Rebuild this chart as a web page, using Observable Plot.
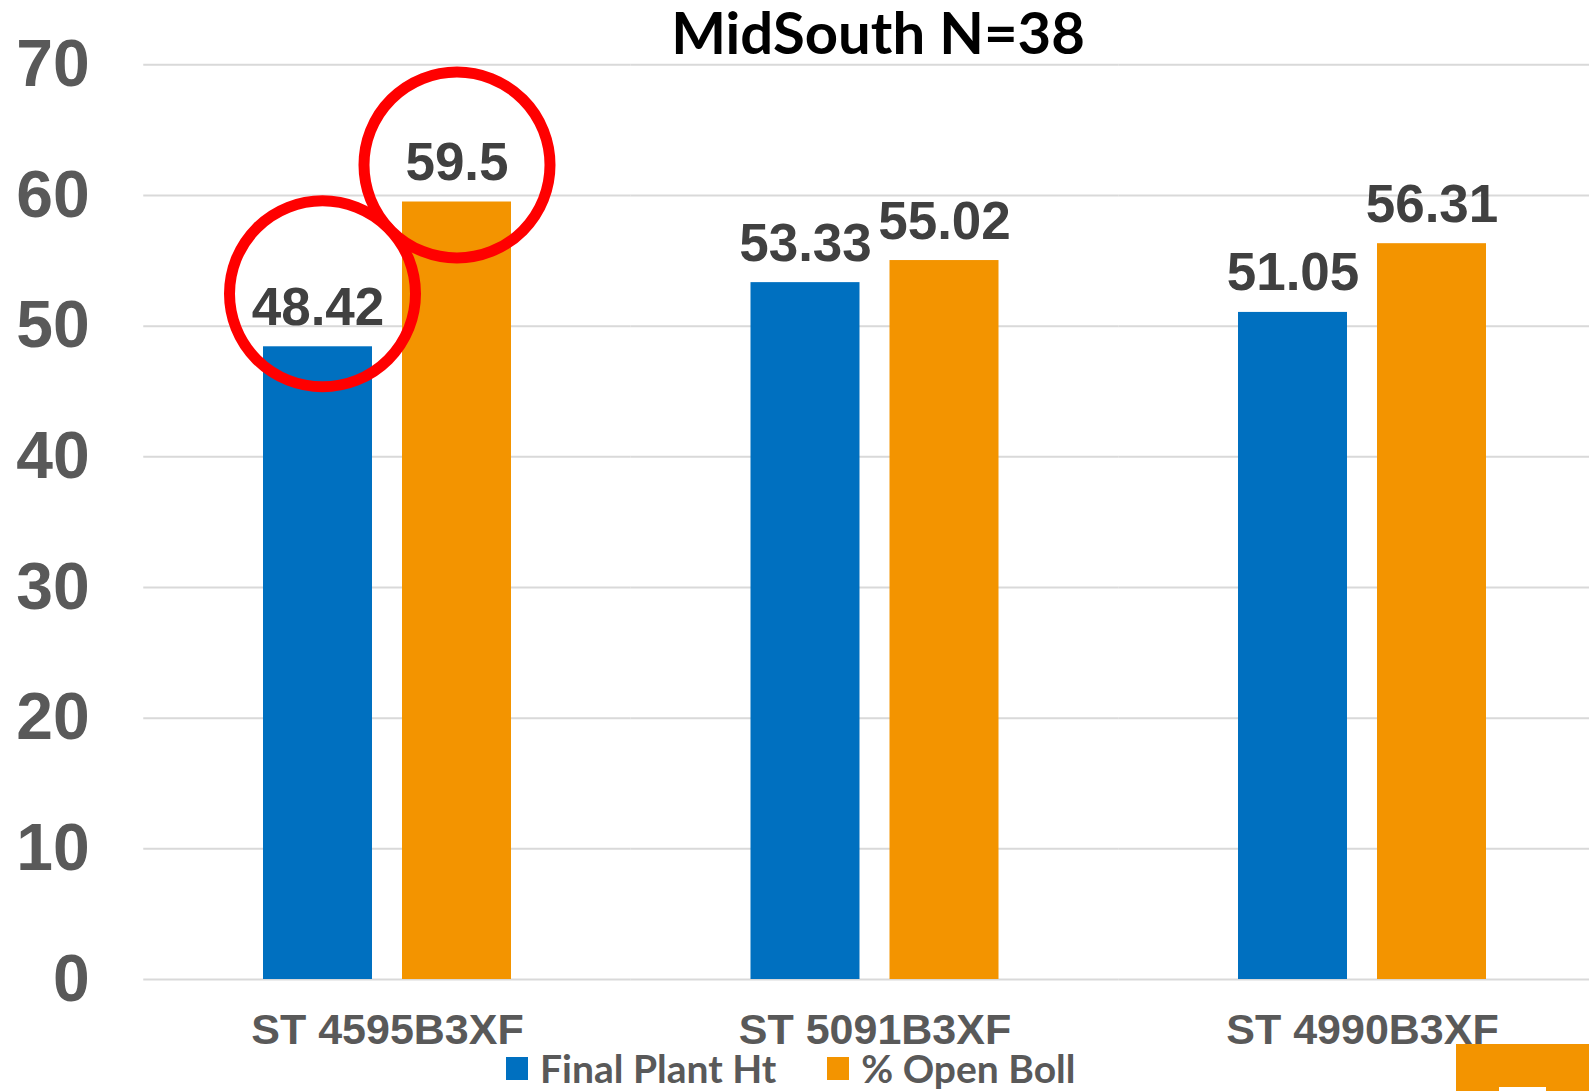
<!DOCTYPE html>
<html>
<head>
<meta charset="utf-8">
<script src="https://cdn.jsdelivr.net/npm/d3@7"></script>
<script src="https://cdn.jsdelivr.net/npm/@observablehq/plot@0.6"></script>
<style>
html, body { margin: 0; padding: 0; background: #fff; overflow: hidden; }
#wrap { position: relative; width: 1589px; height: 1091px; overflow: hidden; background: #fff; }
#chart { position: absolute; left: 0; top: 0; }
#title { position: absolute; top: 3px; left: 878px; transform: translateX(-50%); font-family: Lato, "Open Sans", sans-serif; font-weight: 700; font-size: 58px; line-height: 1.2; color: #000; white-space: nowrap; margin-top: -6px; }
#legend { position: absolute; left: 506px; top: 1049px; display: flex; gap: 51px; font-family: Lato, "Open Sans", sans-serif; font-weight: 700; font-size: 39px; line-height: 1; color: #595959; white-space: nowrap; }
#legend .item { display: flex; align-items: center; }
#legend .sw { width: 22px; height: 23px; margin-right: 12px; }
#logo { position: absolute; left: 1456px; top: 1044px; width: 133px; height: 47px; background: #F39400; }
#logo div { position: absolute; left: 43px; top: 43px; width: 47px; height: 4px; background: #fff; }
</style>
</head>
<body>
<div id="wrap">
  <div id="chart"></div>
  <div id="title">MidSouth N=38</div>
  <div id="legend"></div>
  <div id="logo"><div></div></div>
</div>
<script>
// ---- data ----
const categories = ["ST 4595B3XF", "ST 5091B3XF", "ST 4990B3XF"];
const seriesNames = ["Final Plant Ht", "% Open Boll"];
const finalPlantHt = [48.42, 53.33, 51.05];
const openBoll = [59.5, 55.02, 56.31];
const yTicks = [0, 10, 20, 30, 40, 50, 60, 70];
const seriesColors = ["#0070C0", "#F39400"];
const highlightedCategory = ["ST 4595B3XF"];

const data = categories.flatMap((c, i) => [
  {category: c, series: seriesNames[0], value: finalPlantHt[i]},
  {category: c, series: seriesNames[1], value: openBoll[i]}
]);
const hl = data.filter(d => highlightedCategory.includes(d.category));

const chart = Plot.plot({
  width: 1589,
  height: 1091,
  marginTop: 64.3,
  marginBottom: 112,
  marginLeft: 143.25,
  marginRight: -16.75,
  style: {fontFamily: "'Liberation Sans', Arial, sans-serif", background: "transparent", overflow: "visible"},
  fx: {domain: categories, padding: 0, round: false},
  x: {domain: seriesNames, paddingInner: 0.2158, paddingOuter: 0.8615, round: false, axis: null},
  y: {domain: [0, 70]},
  color: {domain: seriesNames, range: seriesColors},
  marks: [
    Plot.gridY(yTicks, {stroke: "#d9d9d9", strokeOpacity: 1, strokeWidth: 2}),
    Plot.axisY(yTicks, {tickSize: 0, tickPadding: 54, fontSize: 66, fontWeight: "bold", fill: "#595959", label: null}),
    Plot.axisFx({anchor: "bottom", tickSize: 0, tickPadding: 34, fontSize: 43, fontWeight: "bold", fill: "#595959", label: null}),
    Plot.barY(data, {fx: "category", x: "series", y: "value", fill: "series"}),
    Plot.text(data, {fx: "category", x: "series", y: "value", text: d => String(d.value), dy: -22, lineAnchor: "bottom", fontSize: 53, fontWeight: "bold", fill: "#404040"}),
    Plot.dot(hl.filter(d => d.series === seriesNames[0]), {fx: "category", x: "series", y: "value", r: 93, dx: 4.5, dy: -53, stroke: "#ff0000", strokeWidth: 11, fill: "none"}),
    Plot.dot(hl.filter(d => d.series === seriesNames[1]), {fx: "category", x: "series", y: "value", r: 93, dx: 0, dy: -37, stroke: "#ff0000", strokeWidth: 11, fill: "none"})
  ]
});
document.getElementById("chart").appendChild(chart);

// legend
const legend = d3.select("#legend");
seriesNames.forEach((s, i) => {
  const it = legend.append("div").attr("class", "item");
  it.append("div").attr("class", "sw").style("background", seriesColors[i]);
  it.append("span").text(s);
});
</script>
</body>
</html>
